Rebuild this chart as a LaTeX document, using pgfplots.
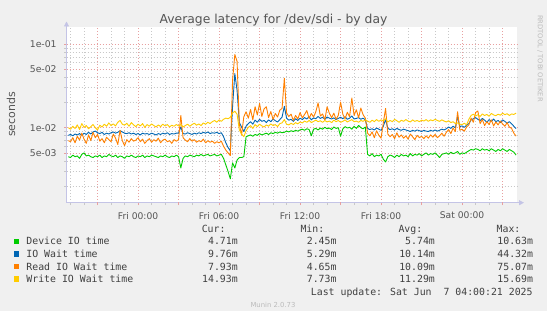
\documentclass[border=0pt]{standalone}
\usepackage{pgfplots}
\pgfplotsset{compat=1.18}
\usepackage{pgfplotstable}
\usepackage{fontspec}
\setmainfont{DejaVu Sans}
\newfontfamily\mono{DejaVu Sans Mono}
\usetikzlibrary{arrows.meta}
\definecolor{bgc}{HTML}{F0F0F0}
\definecolor{axc}{HTML}{C4C4E6}
\definecolor{mgc}{HTML}{E8A0A0}
\definecolor{gc}{HTML}{C8C8C8}
\definecolor{txc}{HTML}{555555}
\definecolor{lgc}{HTML}{404040}
\definecolor{wmc}{HTML}{BBBBBB}
\definecolor{cg}{HTML}{00CC00}
\definecolor{cb}{HTML}{0066B3}
\definecolor{co}{HTML}{FF8000}
\definecolor{cy}{HTML}{FFCC00}

% t: minutes relative to Fri 00:00; values in milliseconds
\pgfplotstableread{
t g b o y
-310 4.5 8.1 7.0 10.0
-300 4.4 8.3 6.8 9.6
-290 4.7 8.0 7.6 10.4
-280 4.5 8.4 6.6 9.8
-270 4.6 8.2 7.9 10.8
-260 4.3 8.5 7.1 9.5
-250 4.8 8.1 8.6 11.2
-240 5.0 8.6 7.3 10.1
-230 4.6 8.3 6.5 10.6
-220 4.7 8.8 8.2 9.7
-210 4.5 8.4 7.0 10.3
-200 4.4 8.9 8.8 10.9
-190 4.6 9.1 7.6 10.0
-180 4.5 8.7 8.3 9.4
-170 4.7 8.5 6.9 10.7
-160 4.4 8.8 7.4 10.2
-150 4.6 8.3 6.6 11.0
-140 4.5 8.6 7.7 10.4
-130 4.8 8.4 7.2 11.4
-120 4.6 8.7 6.8 10.6
-110 4.5 8.9 8.4 11.1
-100 4.7 8.6 7.5 10.5
-90 4.4 8.8 6.3 11.6
-80 4.6 9.2 9.3 12.2
-70 4.5 8.9 7.0 11.0
-60 4.3 8.6 6.1 10.7
-50 4.6 8.5 7.2 11.3
-40 4.5 8.7 6.7 10.4
-30 4.7 8.4 7.4 11.5
-20 4.5 8.6 6.9 10.8
-10 4.4 8.3 7.1 10.3
0 4.6 8.5 7.6 11.0
10 4.5 8.2 6.8 10.5
20 4.7 8.6 7.3 11.2
30 4.4 8.4 6.5 10.1
40 4.6 8.5 7.0 10.9
50 4.5 8.3 7.4 10.4
60 4.7 8.6 6.7 11.1
70 4.6 8.4 7.2 10.6
80 4.5 8.2 6.9 10.2
90 4.4 8.5 7.5 10.8
100 4.6 8.3 6.6 10.3
110 4.5 8.6 7.1 11.0
120 4.7 8.4 7.3 10.5
130 4.5 8.7 6.8 10.9
140 4.4 8.3 7.0 10.2
150 4.6 8.5 6.5 10.7
160 4.5 8.4 7.2 10.4
170 4.7 8.6 6.9 10.9
180 4.5 8.6 7.2 10.5
190 3.3 10.2 14.0 10.9
200 4.3 8.5 7.6 10.2
210 4.6 8.4 7.1 10.6
220 4.5 8.7 6.8 11.0
230 4.7 8.5 7.4 10.4
240 4.6 8.3 6.9 10.9
250 4.5 8.6 7.2 11.3
260 4.7 8.4 6.7 10.7
270 4.6 8.7 7.0 11.1
280 4.8 8.5 6.8 10.6
290 4.6 8.8 7.3 11.4
300 4.7 8.6 6.6 11.0
310 4.8 8.9 7.0 11.6
320 4.6 8.5 6.7 11.2
330 4.7 8.7 6.9 11.8
340 4.8 8.6 6.5 12.2
350 4.6 8.8 6.8 11.6
360 4.7 8.5 6.6 12.4
370 4.8 8.7 6.9 11.9
380 4.3 7.8 6.0 12.6
390 3.6 6.6 5.4 13.0
400 3.0 5.8 5.0 12.8
410 2.45 5.29 4.65 13.3
420 3.8 18.0 37.0 15.0
430 3.3 44.3 75.0 15.7
440 4.1 28.0 62.0 14.5
450 4.4 11.5 11.0 9.4
460 4.4 10.2 8.2 8.4
470 4.5 9.0 13.5 7.8
480 7.8 10.4 15.5 9.2
490 8.0 11.2 13.0 10.1
500 8.2 11.8 16.5 10.6
510 7.9 11.0 12.4 9.8
520 8.3 12.3 17.8 10.9
530 8.1 11.6 14.2 10.3
540 8.5 12.6 19.5 11.0
550 8.2 11.9 13.6 10.5
560 8.4 12.2 16.8 10.2
570 8.6 11.5 17.8 10.8
580 8.3 12.4 13.2 10.4
590 8.7 11.8 15.6 11.1
600 8.5 12.7 12.5 10.6
610 8.8 12.1 14.8 10.9
620 8.6 11.7 13.4 10.3
630 8.9 12.5 16.2 11.2
640 8.7 13.4 17.0 11.4
650 8.8 18.0 39.0 12.5
660 9.1 13.0 15.0 11.0
670 8.9 12.3 13.6 10.8
680 9.2 12.6 14.5 11.3
690 9.0 11.9 12.2 10.9
700 9.3 12.8 14.0 11.5
710 9.1 12.2 12.7 11.1
720 9.4 13.0 15.2 11.7
730 9.6 12.5 13.1 11.4
740 9.3 13.2 14.4 12.0
750 9.7 12.7 16.0 11.6
760 9.5 13.5 12.9 12.2
770 8.0 12.4 14.8 11.5
780 9.6 13.1 13.4 11.9
790 9.8 12.8 15.5 12.3
800 9.4 13.6 19.8 11.8
810 9.9 12.9 13.8 12.1
820 9.6 13.3 14.6 11.6
830 10.1 12.6 12.4 12.2
840 9.7 13.4 17.8 11.7
850 9.9 13.0 14.9 12.0
860 9.5 12.7 13.2 11.5
870 10.2 13.1 14.9 12.3
880 9.8 12.5 12.6 11.8
890 10.0 12.9 14.1 12.2
900 7.9 13.3 20.2 11.6
910 9.7 12.8 14.5 11.9
920 10.3 13.5 12.8 12.4
930 9.9 12.6 15.3 11.7
940 10.1 13.0 13.5 12.1
950 9.6 13.8 22.6 12.5
960 10.4 12.7 14.0 11.8
970 9.8 12.9 16.4 12.0
980 10.63 13.2 13.1 11.6
990 10.0 12.6 17.2 12.2
1000 9.7 13.0 14.3 11.9
1010 10.2 12.4 13.0 12.4
1020 4.8 9.8 8.6 12.0
1030 4.6 9.5 8.0 11.6
1040 4.9 9.7 8.9 12.3
1050 4.5 9.4 7.6 11.8
1060 4.7 9.9 9.2 12.5
1070 4.6 9.6 8.1 11.9
1080 4.8 9.3 7.5 12.4
1090 4.2 10.4 11.5 12.0
1100 3.9 12.5 17.0 12.8
1110 4.5 9.8 8.4 11.7
1120 4.7 9.5 7.8 12.2
1130 4.6 9.7 8.3 11.8
1140 4.4 9.4 7.4 12.6
1150 4.7 9.8 8.7 12.1
1160 4.5 9.5 7.7 11.6
1170 4.8 9.3 8.2 12.3
1180 4.6 9.6 7.5 11.9
1190 4.7 9.4 8.0 12.5
1200 4.5 9.2 7.3 12.0
1210 4.9 9.0 8.4 11.7
1220 4.6 9.3 7.8 12.4
1230 4.8 9.1 7.2 11.9
1240 4.7 9.4 8.1 12.2
1250 4.9 9.2 7.6 11.8
1260 4.6 9.0 7.9 12.3
1270 4.8 9.3 7.4 12.0
1280 5.0 9.1 8.0 12.5
1290 4.7 9.0 7.5 11.9
1300 4.9 9.3 8.2 12.4
1310 4.8 9.1 7.7 12.1
1320 5.0 9.4 8.3 12.6
1330 4.7 9.1 7.6 12.2
1340 4.4 9.3 8.0 11.9
1350 4.8 9.6 8.6 12.4
1360 4.9 9.4 7.9 12.0
1370 5.0 9.7 8.8 11.7
1380 4.8 10.2 9.5 12.1
1390 5.1 9.8 8.5 11.5
1400 4.9 10.4 9.9 11.8
1410 5.0 10.0 9.0 11.2
1420 5.2 13.5 15.5 11.4
1430 4.8 10.3 9.3 11.0
1440 5.0 10.5 9.6 10.9
1450 4.9 10.1 9.1 11.3
1460 5.1 10.7 10.2 10.8
1470 5.3 11.2 10.8 12.6
1480 5.5 12.4 13.0 14.0
1490 5.4 12.8 11.6 14.5
1500 5.6 13.2 15.2 13.8
1510 5.5 12.6 15.8 14.3
1520 5.3 12.1 11.2 13.6
1530 5.6 12.9 12.5 14.6
1540 5.4 12.3 10.6 14.0
1550 5.5 11.6 11.8 14.4
1560 5.3 12.5 10.9 13.7
1570 5.6 11.9 12.4 14.8
1580 5.4 12.7 10.5 14.2
1590 5.2 11.8 11.7 13.9
1600 5.5 12.2 10.8 14.5
1610 5.3 11.5 12.0 14.1
1620 5.6 12.4 11.1 14.9
1630 5.4 11.9 10.4 14.3
1640 5.2 11.3 11.5 14.7
1650 5.5 11.8 10.2 14.0
1660 5.3 11.1 9.8 14.6
1670 5.1 10.4 8.6 14.4
1680 4.71 9.76 7.93 14.93
}\datatable

\begin{document}
\begin{tikzpicture}
\fill[bgc] (0bp,0bp) rectangle (547bp,311bp);
\useasboundingbox (0bp,0bp) rectangle (547bp,311bp);
\begin{axis}[
  at={(66.5bp,108.3bp)}, anchor=south west,
  scale only axis, width=450.5bp, height=175.2bp,
  xmin=-318, xmax=1684,
  ymode=log, ymin=1.27, ymax=157.4,
  axis background/.style={fill=white},
  axis x line=bottom, axis y line=left,
  axis line style={draw=axc, line width=0.8bp},
  x axis line style={-{Triangle[length=5bp,width=5bp]}, shorten >=-7bp},
  y axis line style={-{Triangle[length=5bp,width=5bp]}, shorten >=-6bp},
  xtick={0,360,720,1080,1440},
  xticklabels={Fri 00:00,Fri 06:00,Fri 12:00,Fri 18:00,Sat 00:00},
  extra x ticks={-180,180,540,900,1260,1620},
  extra x tick labels={},
  minor xtick={-300,-240,-120,-60,60,120,240,300,420,480,600,660,780,840,960,1020,1140,1200,1320,1380,1500,1560},
  ytick={5,10,50,100},
  yticklabels={5e-03,1e-02,5e-02,1e-01},
  minor ytick={2,3,4,6,7,8,9,20,30,40,60,70,80,90},
  grid=both,
  major grid style={draw=mgc, dash pattern=on 1bp off 2bp, line width=0.6bp},
  minor grid style={draw=gc, dash pattern=on 1bp off 2bp, line width=0.6bp},
  tick align=outside,
  major tick length=2.5bp, minor tick length=2.5bp,
  major tick style={draw=mgc, line width=0.6bp},
  minor tick style={draw=gc, line width=0.6bp},
  xticklabel style={font=\fontsize{9.2}{11}\selectfont, text=txc, inner sep=0pt, anchor=center, yshift=-10.4bp},
  yticklabel style={font=\fontsize{9.3}{11}\selectfont, text=txc, inner sep=0pt, anchor=east, xshift=-7.2bp},
  every axis plot/.append style={line width=0.9bp, line join=round},
]
\addplot[cg] table[x=t,y=g]{\datatable};
\addplot[cb] table[x=t,y=b]{\datatable};
\addplot[co] table[x=t,y=o]{\datatable};
\addplot[cy] table[x=t,y=y]{\datatable};
\end{axis}
% title and labels
\node[text=txc, font=\fontsize{12.4}{14}\selectfont] at (273.5bp,291bp) {Average latency for /dev/sdi - by day};
\node[text=txc, font=\fontsize{11}{13}\selectfont, rotate=90] at (11bp,196.5bp) {seconds};
\node[text=wmc, font=\fontsize{6.75}{8}\selectfont, rotate=-90] at (540bp,252.5bp) {RRDTOOL / TOBI OETIKER};
\node[text=wmc, font=\fontsize{6.9}{8}\selectfont] at (273bp,6bp) {Munin 2.0.73};
% legend
\begin{scope}[every node/.style={text=lgc, font=\mono\fontsize{9.9}{11}\selectfont, inner sep=0pt}]
\node[anchor=base east] at (225.7bp,78.2bp) {Cur:};
\node[anchor=base east] at (324.5bp,78.2bp) {Min:};
\node[anchor=base east] at (422.5bp,78.2bp) {Avg:};
\node[anchor=base east] at (520.6bp,78.2bp) {Max:};
\fill[cg] (14bp,67bp) rectangle (19.3bp,72.3bp);
\fill[cb] (14bp,54.4bp) rectangle (19.3bp,59.7bp);
\fill[co] (14bp,41.9bp) rectangle (19.3bp,47.2bp);
\fill[cy] (14bp,29.3bp) rectangle (19.3bp,34.6bp);
\node[anchor=base west] at (26.2bp,66.0bp) {Device IO time};
\node[anchor=base west] at (26.2bp,53.4bp) {IO Wait time};
\node[anchor=base west] at (26.2bp,40.9bp) {Read IO Wait time};
\node[anchor=base west] at (26.2bp,28.3bp) {Write IO Wait time};
\node[anchor=base east] at (238bp,66.0bp) {4.71m};
\node[anchor=base east] at (336.7bp,66.0bp) {2.45m};
\node[anchor=base east] at (435.1bp,66.0bp) {5.74m};
\node[anchor=base east] at (533.2bp,66.0bp) {10.63m};
\node[anchor=base east] at (238bp,53.4bp) {9.76m};
\node[anchor=base east] at (336.7bp,53.4bp) {5.29m};
\node[anchor=base east] at (435.1bp,53.4bp) {10.14m};
\node[anchor=base east] at (533.2bp,53.4bp) {44.32m};
\node[anchor=base east] at (238bp,40.9bp) {7.93m};
\node[anchor=base east] at (336.7bp,40.9bp) {4.65m};
\node[anchor=base east] at (435.1bp,40.9bp) {10.09m};
\node[anchor=base east] at (533.2bp,40.9bp) {75.07m};
\node[anchor=base east] at (238bp,28.3bp) {14.93m};
\node[anchor=base east] at (336.7bp,28.3bp) {7.73m};
\node[anchor=base east] at (435.1bp,28.3bp) {11.29m};
\node[anchor=base east] at (533.2bp,28.3bp) {15.69m};
\node[anchor=base east] at (532.8bp,15.8bp) {Last update: Sat Jun\ \ 7 04:00:21 2025};
\end{scope}
\end{tikzpicture}
\end{document}
